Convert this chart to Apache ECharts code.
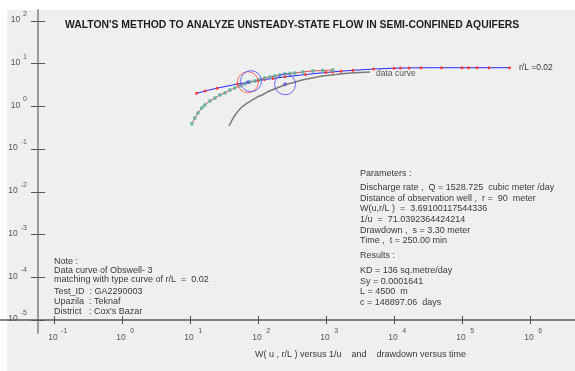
<!DOCTYPE html>
<html>
<head>
<meta charset="utf-8">
<script src="https://cdn.jsdelivr.net/npm/echarts@6/dist/echarts.min.js"></script>
<style>
  html, body { margin: 0; padding: 0; background: #ffffff; }
  #chart { width: 575px; height: 371px; }
</style>
</head>
<body>
<div id="chart"></div>
<script>
// Decade ticks on both logarithmic axes
const xTickValues = [0.1, 1, 10, 100, 1000, 10000, 100000, 1000000];
const yTickValues = [1e-5, 1e-4, 1e-3, 1e-2, 1e-1, 1, 10, 100];

// Hantush leaky-aquifer type curve W(u, r/L) for r/L = 0.02, plotted against 1/u
const typeInvU = [12.5, 16.67, 25, 50, 100, 125, 166.7, 250, 500, 1000, 1250, 1667, 2500, 5000,
                  10000, 12500, 16667, 25000, 50000, 100000, 125000, 166667, 250000, 500000];
const typeW = [2.026, 2.294, 2.679, 3.350, 4.028, 4.247, 4.529, 4.924, 5.590, 6.235, 6.434, 6.683, 7.013, 7.496,
               7.838, 7.911, 7.978, 8.032, 8.056, 8.057, 8.057, 8.057, 8.057, 8.057];

// Observation well 3: time since pumping started (min) and drawdown (m)
const timeMin = [37.5, 41.5, 46, 52.5, 58, 69, 82, 97, 115, 136, 160, 190, 225, 267, 316, 375, 444,
                 526, 622, 738, 873, 1035, 1225, 1606, 2254, 3162, 4436];
const drawdownM = [0.35, 0.48, 0.63, 0.82, 0.97, 1.20, 1.41, 1.66, 1.85, 2.17, 2.42, 2.70, 3.00, 3.35,
                   3.53, 3.83, 4.15, 4.38, 4.63, 4.88, 5.15, 5.29, 5.44, 5.74, 6.06, 6.22, 6.39];

// Match point read on both curves
const matchInvU = 71.0392364424214;
const matchW = 3.69100117544336;
const matchTime = 250;
const matchDrawdown = 3.30;
// Second marker of the match point on the type-curve sheet
const matchMarkInvU = 79;
const matchMarkW = 3.9;

// Data curve moved onto the type curve by the match-point ratios
const shiftX = matchInvU / matchTime;
const shiftY = matchW / matchDrawdown;
const typeData = typeInvU.map((v, i) => [v, typeW[i]]);
const rawData = timeMin.map((t, i) => [t, drawdownM[i]]);
const matchedData = timeMin.map((t, i) => [t * shiftX, drawdownM[i] * shiftY]);

const xMin = Math.pow(10, -1.7941), xMax = Math.pow(10, 6.6618);
const yMin = Math.pow(10, -5.3044), yMax = Math.pow(10, 2.2575);

const labelColor = '#555';
const textColor = '#3a3a3a';
const font = '"Liberation Sans", Arial, sans-serif';

const expOf = v => Math.round(Math.log10(v));

const chart = echarts.init(document.getElementById('chart'), null, { renderer: 'canvas' });

function textLines(x, y0, lines, size) {
  return lines.map(t => ({
    type: 'text',
    left: x,
    top: y0 + t[1],
    style: { text: t[0], font: size + 'px ' + font, fill: textColor },
    z: 10
  }));
}

const paramLines = [
  ['Parameters :', 0],
  ['Discharge rate ,  Q = 1528.725  cubic meter /day', 14],
  ['Distance of observation well ,  r =  90  meter', 24.7],
  ['W(u,r/L )  =  3.69100117544336', 35.4],
  ['1/u  =  71.0392364424214', 46.1],
  ['Drawdown ,  s = 3.30 meter', 56.8],
  ['Time ,  t = 250.00 min', 67.5],
  ['Results :', 82],
  ['KD = 136 sq.metre/day', 97],
  ['Sy = 0.0001641', 107.7],
  ['L = 4500  m', 118.4],
  ['c = 148897.06  days', 129.1]
];
const noteLines = [
  ['Note :', 0],
  ['Data curve of Obswell- 3', 9],
  ['matching with type curve of r/L  =  0.02', 18],
  ['Test_ID  : GA2290003', 30],
  ['Upazila  : Teknaf', 40],
  ['District   : Cox\'s Bazar', 50]
];

const option = {
  animation: false,
  backgroundColor: '#ffffff',
  title: {
    text: "WALTON'S METHOD TO ANALYZE UNSTEADY-STATE FLOW IN SEMI-CONFINED AQUIFERS",
    left: 65, top: 20, padding: 0,
    textStyle: { fontFamily: font, fontSize: 10.4, fontWeight: 'bold', color: '#1e1e1e' }
  },
  graphic: [
    { type: 'rect', left: 7, top: 10, shape: { width: 568, height: 361 }, style: { fill: '#efefef' }, z: -10, silent: true },
    ...textLines(360, 169, paramLines, 9),
    ...textLines(54, 257, noteLines, 9),
    { type: 'text', left: 255, top: 350,
      style: { text: 'W( u , r/L ) versus 1/u    and    drawdown versus time', font: '9px ' + font, fill: textColor } }
  ],
  grid: { left: 0, right: 0, top: 10, bottom: 38, containLabel: false },
  xAxis: [
    {
      type: 'log', logBase: 10, min: xMin, max: xMax, position: 'bottom', offset: -13,
      axisLine: { show: true, onZero: false, lineStyle: { color: '#5a5a5a', width: 1.5 } },
      axisTick: { show: false }, axisLabel: { show: false }, splitLine: { show: false }
    },
    {
      type: 'log', logBase: 10, min: xMin, max: xMax, position: 'bottom', offset: -9,
      axisLine: { show: false, onZero: false },
      axisTick: { show: true, inside: true, length: 8, customValues: xTickValues, lineStyle: { color: '#555', width: 1 } },
      axisLabel: {
        show: true, margin: 4, customValues: xTickValues, verticalAlign: 'top',
        formatter: v => '{p|}{b|10}{s|' + expOf(v) + '}',
        rich: {
          p: { width: 9 },
          b: { fontSize: 8.5, fontFamily: font, color: labelColor, verticalAlign: 'bottom' },
          s: { fontSize: 7, fontFamily: font, color: labelColor, width: 9, align: 'left', padding: [0, 0, 7, 2], verticalAlign: 'bottom' }
        }
      },
      splitLine: { show: false }
    }
  ],
  yAxis: [
    {
      type: 'log', logBase: 10, min: yMin, max: yMax, position: 'left', offset: -38,
      axisLine: { show: true, onZero: false, lineStyle: { color: '#9a9a9a', width: 2 } },
      axisTick: { show: false }, axisLabel: { show: false }, splitLine: { show: false }
    },
    {
      type: 'log', logBase: 10, min: yMin, max: yMax, position: 'left', offset: -31,
      axisLine: { show: false, onZero: false },
      axisTick: { show: true, inside: true, length: 14, customValues: yTickValues, lineStyle: { color: '#555', width: 1 } },
      axisLabel: {
        show: true, margin: 4, customValues: yTickValues,
        formatter: v => '{b|10}{s|' + expOf(v) + '}',
        rich: {
          b: { fontSize: 8.5, fontFamily: font, color: labelColor, padding: [0, 0, 7, 0], verticalAlign: 'bottom' },
          s: { fontSize: 7, fontFamily: font, color: labelColor, padding: [0, 0, 14, 3], verticalAlign: 'bottom' }
        }
      },
      splitLine: { show: false }
    }
  ],
  series: [
    {
      name: 'type curve', type: 'line', xAxisIndex: 0, yAxisIndex: 0, data: typeData,
      lineStyle: { color: '#2a2aff', width: 1 },
      symbol: 'circle', symbolSize: 3, showSymbol: true,
      itemStyle: { color: '#ff3a3a' },
      label: {
        show: true, position: 'right', distance: 8, color: textColor, fontSize: 8.5, fontFamily: font,
        formatter: p => p.dataIndex === typeData.length - 1 ? 'r/L =0.02' : ''
      },
      z: 3
    },
    {
      name: 'data curve', type: 'line', xAxisIndex: 0, yAxisIndex: 0, data: rawData,
      lineStyle: { color: '#7a7a7a', width: 1.5 }, symbol: 'none',
      endLabel: { show: true, formatter: 'data curve', color: '#555', fontSize: 8.5, fontFamily: font, distance: 6, offset: [0, 2] },
      z: 2
    },
    {
      name: 'matched data', type: 'line', xAxisIndex: 0, yAxisIndex: 0, data: matchedData,
      lineStyle: { color: '#e65252', width: 1 },
      symbol: 'circle', symbolSize: 4, showSymbol: true,
      itemStyle: { color: 'rgba(78,180,160,0.75)' },
      z: 4
    },
    {
      name: 'match circles', type: 'scatter', xAxisIndex: 0, yAxisIndex: 0,
      data: [
        { value: [matchInvU, matchW], itemStyle: { borderColor: '#ff4a4a' } },
        { value: [matchMarkInvU, matchMarkW], itemStyle: { borderColor: '#4a4aff' } },
        { value: [matchTime, matchDrawdown], itemStyle: { borderColor: '#4a4aff' } }
      ],
      symbol: 'circle', symbolSize: 21,
      itemStyle: { color: 'rgba(0,0,0,0)', borderWidth: 1 },
      z: 5
    },
    {
      name: 'match centres', type: 'scatter', xAxisIndex: 0, yAxisIndex: 0,
      data: [[matchInvU, matchW], [matchTime, matchDrawdown]],
      symbol: 'circle', symbolSize: 4,
      itemStyle: { color: '#5a5acc' },
      z: 6
    }
  ]
};

chart.setOption(option);
</script>
</body>
</html>
